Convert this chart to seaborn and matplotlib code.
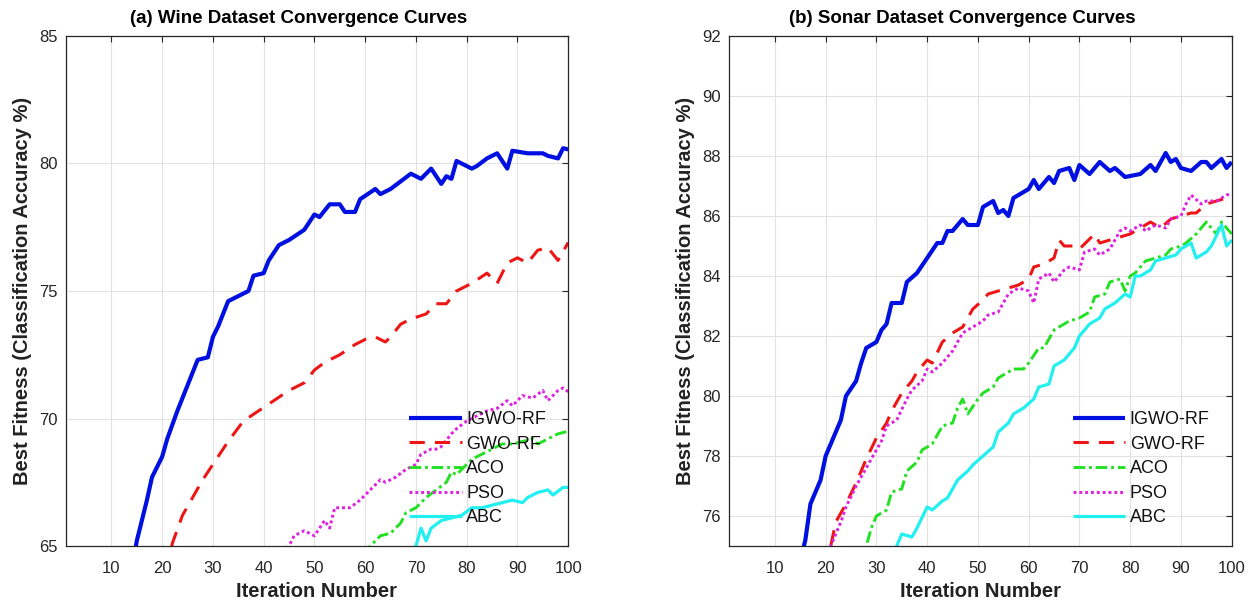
import matplotlib
matplotlib.use("Agg")
import matplotlib.pyplot as plt
import seaborn as sns
import pandas as pd

# ---------------- data ----------------
series_names = ["IGWO-RF", "GWO-RF", "ACO", "PSO", "ABC"]

# (a) Wine dataset
wine_igwo_it = [14, 15, 17, 18, 20, 21, 23, 25, 27, 29, 30, 31, 33, 35, 37, 38, 40, 41, 43, 45, 48, 50, 51, 53, 55, 56, 58, 59, 62, 63, 65, 67, 69, 71, 73, 75, 76, 77, 78, 81, 82, 84, 86, 88, 89, 92, 95, 96, 98, 99, 100]
wine_igwo = [64.0, 65.2, 66.8, 67.7, 68.5, 69.2, 70.3, 71.3, 72.3, 72.4, 73.2, 73.6, 74.6, 74.8, 75.0, 75.6, 75.7, 76.2, 76.8, 77.0, 77.4, 78.0, 77.9, 78.4, 78.4, 78.1, 78.1, 78.6, 79.0, 78.8, 79.0, 79.3, 79.6, 79.4, 79.8, 79.2, 79.5, 79.4, 80.1, 79.8, 79.9, 80.2, 80.4, 79.8, 80.5, 80.4, 80.4, 80.3, 80.2, 80.6, 80.55]

wine_gwo_it = [21, 22, 24, 26, 28, 31, 33, 36, 39, 42, 45, 46, 48, 50, 52, 55, 58, 60, 62, 64, 65, 67, 69, 72, 74, 76, 78, 80, 81, 84, 86, 88, 90, 92, 94, 96, 98, 100]
wine_gwo = [64.0, 65.1, 66.2, 66.9, 67.6, 68.5, 69.1, 69.9, 70.3, 70.7, 71.1, 71.2, 71.4, 71.9, 72.2, 72.5, 72.9, 73.1, 73.2, 73.0, 73.2, 73.7, 73.9, 74.1, 74.5, 74.5, 75.0, 75.2, 75.3, 75.7, 75.3, 76.1, 76.3, 76.1, 76.6, 76.7, 76.2, 76.9]

wine_aco_it = [60, 61, 63, 65, 67, 68, 70, 72, 74, 76, 77, 78, 80, 81, 83, 85, 87, 89, 91, 93, 94, 96, 98, 100]
wine_aco = [64.6, 65.0, 65.4, 65.5, 65.9, 66.3, 66.5, 66.9, 67.2, 67.5, 67.9, 67.8, 68.2, 68.4, 68.6, 68.8, 69.0, 69.0, 69.1, 69.2, 69.0, 69.2, 69.4, 69.5]

wine_pso_it = [44, 45, 46, 48, 50, 52, 53, 54, 56, 57, 59, 61, 63, 64, 66, 68, 70, 71, 73, 74, 75, 77, 78, 80, 82, 84, 86, 88, 89, 91, 93, 95, 96, 98, 99, 100]
wine_pso = [64.7, 65.0, 65.4, 65.6, 65.4, 66.0, 65.7, 66.5, 66.5, 66.5, 66.8, 67.2, 67.6, 67.5, 67.7, 68.0, 68.2, 68.6, 68.8, 68.8, 68.9, 69.4, 69.6, 69.9, 70.1, 70.3, 70.4, 70.7, 70.5, 70.9, 70.8, 71.1, 70.7, 71.1, 71.2, 71.05]

wine_abc_it = [69, 70, 71, 72, 73, 75, 77, 79, 81, 83, 85, 87, 89, 91, 92, 94, 96, 97, 99, 100]
wine_abc = [64.5, 65.0, 65.7, 65.2, 65.7, 66.0, 66.1, 66.2, 66.5, 66.5, 66.6, 66.7, 66.8, 66.7, 66.9, 67.1, 67.2, 67.0, 67.3, 67.3]

# (b) Sonar dataset
sonar_igwo_it = [15, 16, 17, 19, 20, 22, 23, 24, 26, 27, 28, 30, 31, 32, 33, 35, 36, 38, 40, 42, 43, 44, 45, 47, 48, 50, 51, 53, 54, 55, 56, 57, 59, 60, 61, 62, 64, 65, 66, 68, 69, 70, 72, 74, 76, 77, 79, 82, 84, 85, 87, 88, 89, 90, 92, 94, 95, 96, 98, 99, 100]
sonar_igwo = [74.5, 75.2, 76.4, 77.2, 78.0, 78.8, 79.2, 80.0, 80.5, 81.1, 81.6, 81.8, 82.2, 82.4, 83.1, 83.1, 83.8, 84.1, 84.6, 85.1, 85.1, 85.5, 85.5, 85.9, 85.7, 85.7, 86.3, 86.5, 86.1, 86.2, 86.0, 86.6, 86.8, 86.9, 87.2, 86.9, 87.3, 87.1, 87.5, 87.6, 87.2, 87.7, 87.4, 87.8, 87.5, 87.6, 87.3, 87.4, 87.7, 87.5, 88.1, 87.8, 87.9, 87.6, 87.5, 87.8, 87.8, 87.6, 87.9, 87.6, 87.8]

sonar_gwo_it = [20, 21, 22, 24, 26, 28, 30, 32, 33, 35, 37, 38, 40, 41, 43, 45, 47, 49, 51, 52, 54, 56, 58, 60, 61, 63, 65, 66, 67, 69, 70, 73, 74, 76, 78, 80, 82, 84, 86, 88, 90, 92, 93, 95, 97, 99, 100]
sonar_gwo = [74.2, 75.0, 75.8, 76.4, 77.1, 77.9, 78.6, 79.1, 79.5, 80.1, 80.5, 80.8, 81.2, 81.1, 81.8, 82.1, 82.3, 82.9, 83.2, 83.4, 83.5, 83.6, 83.7, 83.9, 84.3, 84.4, 84.6, 85.2, 85.0, 85.0, 84.9, 85.4, 85.1, 85.2, 85.3, 85.4, 85.6, 85.8, 85.6, 85.9, 86.0, 86.1, 86.1, 86.4, 86.5, 86.6, 86.7]

sonar_aco_it = [27, 28, 29, 30, 32, 33, 35, 36, 38, 39, 41, 43, 45, 46, 47, 48, 50, 51, 53, 54, 56, 57, 59, 60, 62, 63, 65, 67, 68, 70, 72, 73, 75, 76, 78, 79, 80, 81, 83, 85, 87, 88, 90, 91, 93, 95, 97, 98, 99, 100]
sonar_aco = [74.4, 75.0, 75.6, 76.0, 76.2, 76.8, 76.9, 77.5, 77.8, 78.2, 78.4, 79.0, 79.1, 79.6, 79.9, 79.4, 79.9, 80.1, 80.3, 80.6, 80.8, 80.9, 80.9, 81.1, 81.6, 81.6, 82.2, 82.4, 82.5, 82.6, 82.8, 83.3, 83.4, 83.8, 83.9, 83.5, 84.0, 84.1, 84.5, 84.6, 84.7, 84.9, 85.0, 85.1, 85.4, 85.8, 85.4, 85.8, 85.6, 85.4]

sonar_pso_it = [20, 21, 23, 24, 26, 28, 29, 31, 32, 34, 36, 37, 39, 40, 41, 43, 45, 47, 49, 51, 52, 54, 56, 57, 58, 60, 61, 62, 64, 65, 67, 68, 70, 71, 73, 74, 76, 78, 79, 80, 82, 83, 85, 87, 88, 90, 91, 92, 94, 95, 97, 99, 100]
sonar_pso = [74.2, 75.0, 75.8, 76.3, 77.0, 77.6, 77.9, 78.5, 79.0, 79.2, 79.9, 80.2, 80.5, 80.9, 80.8, 81.1, 81.5, 82.1, 82.3, 82.5, 82.7, 82.8, 83.4, 83.5, 83.6, 83.5, 83.1, 83.9, 84.1, 83.8, 84.2, 84.3, 84.2, 84.8, 84.9, 84.7, 84.9, 85.5, 85.6, 85.5, 85.7, 85.5, 85.7, 85.6, 85.9, 86.0, 86.4, 86.7, 86.4, 86.5, 86.5, 86.7, 86.75]

sonar_abc_it = [33, 34, 35, 37, 38, 40, 41, 43, 44, 46, 48, 49, 51, 53, 54, 56, 57, 59, 61, 62, 64, 65, 67, 69, 70, 72, 74, 75, 77, 79, 80, 81, 82, 84, 85, 87, 89, 90, 92, 93, 95, 96, 98, 99, 100]
sonar_abc = [74.5, 75.0, 75.4, 75.3, 75.6, 76.3, 76.2, 76.5, 76.6, 77.2, 77.5, 77.7, 78.0, 78.3, 78.8, 79.1, 79.4, 79.6, 79.9, 80.3, 80.4, 81.0, 81.2, 81.6, 82.0, 82.4, 82.6, 82.9, 83.1, 83.4, 83.3, 84.0, 84.0, 84.2, 84.5, 84.6, 84.7, 84.9, 85.1, 84.6, 84.8, 85.0, 85.7, 85.0, 85.2]

x_ticks = [10, 20, 30, 40, 50, 60, 70, 80, 90, 100]
wine_yticks = [65, 70, 75, 80, 85]
sonar_yticks = [76, 78, 80, 82, 84, 86, 88, 90, 92]

titles = ["(a) Wine Dataset Convergence Curves", "(b) Sonar Dataset Convergence Curves"]
xlabel = "Iteration Number"
ylabel = "Best Fitness (Classification Accuracy %)"

# ---------------- style ----------------
sns.set_style("white")
plt.rcParams["font.family"] = ["Liberation Sans", "DejaVu Sans"]

styles = {
    "IGWO-RF": dict(color="#0010E0", lw=3.0, dashes=None),
    "GWO-RF": dict(color="#EE1515", lw=2.2, dashes=(5, 3.3)),
    "ACO": dict(color="#22E022", lw=2.1, dashes=(4, 1.3, 1, 1.3)),
    "PSO": dict(color="#E020E0", lw=2.1, dashes=(1, 1.0)),
    "ABC": dict(color="#22F0F0", lw=2.3, dashes=None),
}

fig = plt.figure(figsize=(12.59, 6.06), dpi=100)
ax_a = fig.add_axes([0.0522, 0.099, 0.3991, 0.8416])
ax_b = fig.add_axes([0.5792, 0.099, 0.3991, 0.8416])

panels = [
    (ax_a, [(wine_igwo_it, wine_igwo), (wine_gwo_it, wine_gwo), (wine_aco_it, wine_aco),
            (wine_pso_it, wine_pso), (wine_abc_it, wine_abc)], (65, 85), wine_yticks),
    (ax_b, [(sonar_igwo_it, sonar_igwo), (sonar_gwo_it, sonar_gwo), (sonar_aco_it, sonar_aco),
            (sonar_pso_it, sonar_pso), (sonar_abc_it, sonar_abc)], (75, 92), sonar_yticks),
]

for i, (ax, data, ylim, yticks) in enumerate(panels):
    for name, (xs, ys) in zip(series_names, data):
        st = styles[name]
        df = pd.DataFrame({"it": xs, "fit": ys})
        sns.lineplot(data=df, x="it", y="fit", ax=ax, color=st["color"], lw=st["lw"],
                     label=name, estimator=None, sort=False)
        line = ax.lines[-1]
        line.set_solid_capstyle("butt")
        if st["dashes"] is not None:
            line.set_dashes(st["dashes"])
            line.set_dash_capstyle("butt")
    ax.set_xlim(1, 100)
    ax.set_ylim(*ylim)
    ax.set_xticks(x_ticks)
    ax.set_yticks(yticks)
    ax.grid(True, color="#E2E2E2", lw=0.8)
    ax.set_axisbelow(True)
    for sp in ax.spines.values():
        sp.set_color("#262626")
        sp.set_linewidth(0.9)
        sp.set_visible(True)
    ax.tick_params(direction="in", top=True, right=True, length=4, width=0.8,
                   labelsize=12, colors="#262626")
    ax.tick_params(axis="y", pad=6)
    ax.tick_params(axis="x", pad=11)
    ax.set_title(titles[i], fontsize=13.5, fontweight="bold", pad=9, color="black",
                 x=0.463)
    ax.set_xlabel(xlabel, fontsize=14.5, fontweight="bold", labelpad=4, color="#222222")
    ax.set_ylabel(ylabel, fontsize=14.5, fontweight="bold", labelpad=5, color="#222222")
    leg = ax.legend(loc="lower right", frameon=False, fontsize=13, handlelength=2.9,
                    handletextpad=0.25, labelspacing=0.42, borderaxespad=0.4,
                    bbox_to_anchor=(0.985, 0.01))
    for t in leg.get_texts():
        t.set_color("#111111")

fig.savefig("out.png", dpi=100)
